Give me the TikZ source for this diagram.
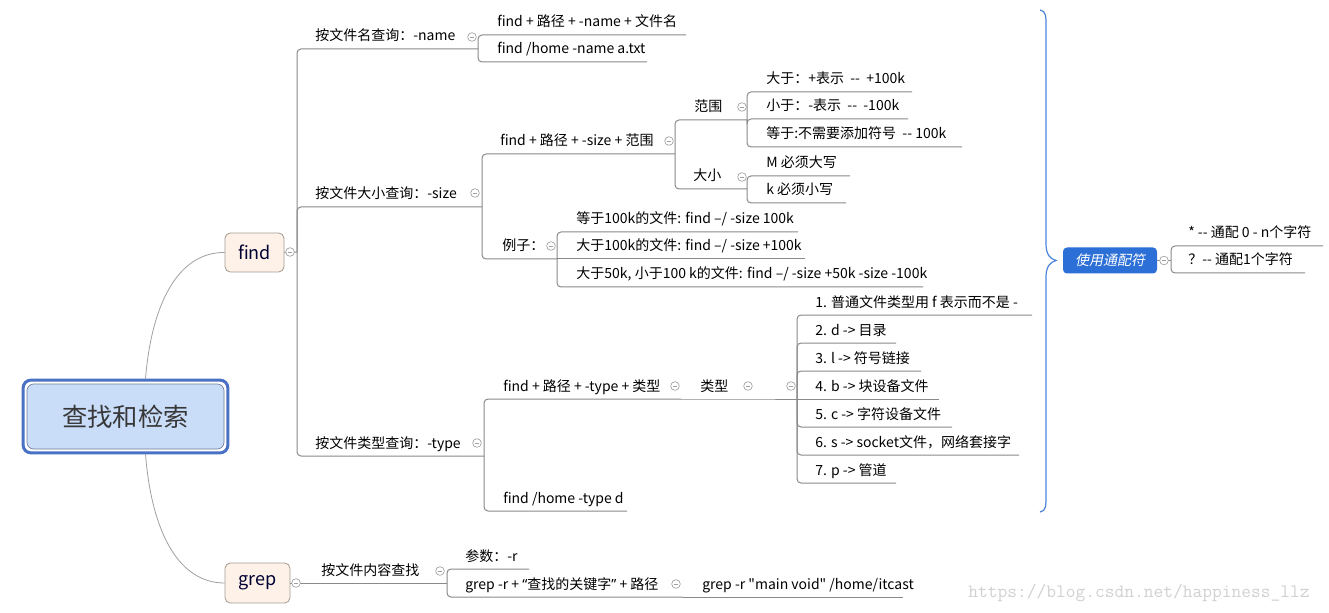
\documentclass[tikz,border=0pt]{standalone}
\usepackage{fontspec}
\newfontfamily\cjk{Noto Sans CJK SC}
\newfontfamily\cjkslant[FakeSlant=0.2]{Noto Sans CJK SC}
\newfontfamily\latinq{Noto Sans}
\usetikzlibrary{positioning,fit}
\definecolor{linegray}{RGB}{138,138,138}
\definecolor{foldgray}{RGB}{160,160,160}
\definecolor{rootfill}{RGB}{201,220,248}
\definecolor{rootblue}{RGB}{74,114,196}
\definecolor{rootedge}{RGB}{110,125,150}
\definecolor{leaffill}{RGB}{254,242,232}
\definecolor{leafedge}{RGB}{165,155,145}
\definecolor{wildblue}{RGB}{44,111,214}
\definecolor{braceblue}{RGB}{76,132,220}
\newcommand{\mmfont}{\cjk\fontsize{10.5}{12}\selectfont}
\tikzset{
  mmtext/.style={anchor=base west, inner sep=0pt, font=\mmfont},
  mmline/.style={draw=linegray, line width=0.75pt},
  mmbranch/.style={mmline, rounded corners=3pt},
  mmcurve/.style={draw=foldgray, line width=0.6pt},
  mmfold/.style={circle, draw=foldgray, fill=white, line width=0.5pt,
                 minimum size=6.5pt, inner sep=0pt,
                 path picture={\draw[foldgray, line width=0.5pt]
                   ([xshift=-1.7pt]path picture bounding box.center) --
                   ([xshift=1.7pt]path picture bounding box.center);}},
  rootbox/.style={draw=rootedge, line width=0.5pt, fill=rootfill, rounded corners=5pt,
                  minimum width=147.75pt, minimum height=48.75pt,
                  font=\cjk\fontsize{19}{22}\selectfont, text=black!78},
  rootring/.style={draw=rootblue, line width=2.25pt, rounded corners=6pt, inner sep=2.7pt},
  leafbox/.style={draw=leafedge, line width=0.6pt, fill=leaffill, rounded corners=4pt,
                  font=\cjk\fontsize{13.5}{15}\selectfont, text=black!80!blue},
  wildbox/.style={fill=wildblue, rounded corners=3pt, minimum width=70.5pt,
                  minimum height=19.5pt, text=white,
                  font=\cjkslant\fontsize{10.5}{12}\selectfont},
  brace/.style={draw=braceblue, line width=0.9pt},
  urlmark/.style={anchor=west, inner sep=0pt, text=black!18,
               font=\ttfamily\fontsize{14.2}{16}\selectfont},
}
\newcommand{\mmtopic}[4]{\node[mmtext] (#1) at (#2,#3) {#4};}
\newcommand{\mmfoldat}[3]{\node[mmfold] (#1) at (#2,#3) {};}

\begin{document}
\begin{tikzpicture}[x=0.75pt, y=-0.75pt]
  \useasboundingbox (0,0) rectangle (1329,613);
  \fill[white] (0,0) rectangle (1329,613);

  % root and first level
  \node[rootbox] (root) at (125.5,416.5) {查找和检索};
  \node[rootring, fit=(root)] (rootR) {};
  \node[leafbox, minimum width=44.25pt, minimum height=29.25pt] (find) at (254.5,252.5) {find};
  \node[leafbox, minimum width=48.75pt, minimum height=30pt] (grep) at (257.5,583) {grep};
  \draw[mmcurve] ([xshift=15pt]rootR.north) .. controls (152,300) and (180,252) .. (find.west);
  \draw[mmcurve] ([xshift=15pt]rootR.south) .. controls (152,535) and (180,583) .. (grep.west);

  % junctions (right ends of the underlines)
  \coordinate (fJ) at (297,252);
  \coordinate (nameEnd) at (478,49);
  \coordinate (sizeEnd) at (482,207);
  \coordinate (typeEnd) at (484,456);
  \coordinate (n1End) at (686,35);
  \coordinate (n2End) at (647,62);
  \coordinate (szqEnd) at (675,154);
  \coordinate (exEnd) at (557,259);
  \coordinate (rangeEnd) at (747,120);
  \coordinate (unitEnd) at (747,189);
  \coordinate (r1End) at (912,92);
  \coordinate (r2End) at (908,119);
  \coordinate (r3End) at (962,147);
  \coordinate (u1End) at (850,176);
  \coordinate (u2End) at (846,203);
  \coordinate (e1End) at (798,232);
  \coordinate (e2End) at (805,259);
  \coordinate (e3End) at (923,287);
  \coordinate (tqEnd) at (681,399);
  \coordinate (thEnd) at (627,511);
  \coordinate (kindEnd) at (754,399);
  \coordinate (blankEnd) at (797,399);
  \foreach \i/\y/\x in {1/315/1032, 2/343/896, 3/371/921, 4/399/939, 5/427/952, 6/455/1019, 7/483/896}
    \coordinate (k\i End) at (\x,\y);
  \coordinate (ctEnd) at (447,583);
  \coordinate (g1End) at (529,569);
  \coordinate (g2End) at (683,597);
  \coordinate (g3End) at (903,597);

  % find branches
  \draw[mmline] (find.east) -- (fJ);
  \foreach \t in {nameEnd,sizeEnd,typeEnd}
    \draw[mmbranch] (fJ) |- (\t);
  \foreach \t in {n1End,n2End}
    \draw[mmbranch] (nameEnd) |- (\t);
  \foreach \t in {szqEnd,exEnd}
    \draw[mmbranch] (sizeEnd) |- (\t);
  \foreach \t in {rangeEnd,unitEnd}
    \draw[mmbranch] (szqEnd) |- (\t);
  \foreach \t in {r1End,r2End,r3End}
    \draw[mmbranch] (rangeEnd) |- (\t);
  \foreach \t in {u1End,u2End}
    \draw[mmbranch] (unitEnd) |- (\t);
  \draw[mmbranch] (exEnd) |- (e1End);
  \draw[mmline] (exEnd) -- (e2End);
  \draw[mmbranch] (exEnd) |- (e3End);
  \foreach \t in {tqEnd,thEnd}
    \draw[mmbranch] (typeEnd) |- (\t);
  \draw[mmline] (tqEnd) -- (kindEnd) -- (blankEnd);
  \foreach \i in {1,2,3,5,6,7}
    \draw[mmbranch] (blankEnd) |- (k\i End);
  \draw[mmline] (blankEnd) -- (k4End);

  % grep branches
  \draw[mmline] (grep.east) -- (ctEnd);
  \foreach \t in {g1End,g2End}
    \draw[mmbranch] (ctEnd) |- (\t);
  \draw[mmline] (g2End) -- (g3End);

  % texts
  \mmtopic{nameT}{315}{41}{按文件名查询：-name}
  \mmtopic{sizeT}{315}{199}{按文件大小查询：-size}
  \mmtopic{typeT}{315}{448}{按文件类型查询：-type}
  \mmtopic{n1T}{497}{27}{find + 路径 + -name + 文件名}
  \mmtopic{n2T}{497}{54}{find /home -name a.txt}
  \mmtopic{szqT}{500}{146}{find + 路径 + -size + 范围}
  \mmtopic{exT}{502}{251}{例子：}
  \mmtopic{rangeT}{694}{112}{范围}
  \mmtopic{unitT}{693}{181}{大小}
  \mmtopic{r1T}{766}{84}{大于：+表示\ \ -{}-\ \ +100k}
  \mmtopic{r2T}{766}{111}{小于：-表示\ \ -{}-\ \ -100k}
  \mmtopic{r3T}{766}{139}{等于:不需要添加符号\ \ -{}- 100k}
  \mmtopic{u1T}{766}{168}{M 必须大写}
  \mmtopic{u2T}{766}{195}{k 必须小写}
  \mmtopic{e1T}{576}{224}{等于100k的文件: find –/ -size 100k}
  \mmtopic{e2T}{576}{251}{大于100k的文件: find –/ -size +100k}
  \mmtopic{e3T}{576}{279}{大于50k, 小于100 k的文件: find –/ -size +50k -size -100k}
  \mmtopic{tqT}{503}{391}{find + 路径 + -type + 类型}
  \mmtopic{thT}{503}{503}{find /home -type d}
  \mmtopic{kindT}{700}{391}{类型}
  \mmtopic{k1T}{815}{307}{1. 普通文件类型用 f 表示而不是 -}
  \mmtopic{k2T}{815}{335}{2. d -> 目录}
  \mmtopic{k3T}{815}{363}{3. l -> 符号链接}
  \mmtopic{k4T}{815}{391}{4. b -> 块设备文件}
  \mmtopic{k5T}{815}{419}{5. c -> 字符设备文件}
  \mmtopic{k6T}{815}{447}{6. s -> socket文件，网络套接字}
  \mmtopic{k7T}{815}{475}{7. p -> 管道}
  \mmtopic{ctT}{321}{575}{按文件内容查找}
  \mmtopic{g1T}{465}{561}{参数：-r}
  \mmtopic{g2T}{465}{589}{grep -r + {\latinq“}查找的关键字{\latinq”} + 路径}
  \mmtopic{g3T}{702}{589}{grep -r "main void" /home/itcast}

  % summary brace and wildcards
  \node[wildbox] (wild) at (1110,260.5) {使用通配符};
  \coordinate (braceTop) at (1040,10);
  \coordinate (braceBot) at (1040,512);
  \coordinate (cusp) at ([xshift=-5pt]wild.west);
  \draw[brace] (braceTop) .. controls (1046,11) and (1046,16) .. (1046,26) -- (1046,244)
    .. controls (1046,254) and (1050,259) .. (cusp)
    .. controls (1050,262) and (1046,267) .. (1046,277) -- (1046,496)
    .. controls (1046,506) and (1046,511) .. (braceBot);
  \coordinate (wJ) at (1171,260.5);
  \coordinate (w1End) at (1323,246);
  \coordinate (w2End) at (1305,273);
  \draw[mmline] (wild.east) -- (wJ);
  \foreach \t in {w1End,w2End}
    \draw[mmbranch] (wJ) |- (\t);
  \mmtopic{w1T}{1188}{238}{* -{}- 通配 0 - n个字符}
  \mmtopic{w2T}{1188}{265}{？-{}- 通配1个字符}

  % collapse marks
  \mmfoldat{findF}{290}{252}
  \mmfoldat{grepF}{296}{583}
  \mmfoldat{wildF}{1164}{260.5}
  \mmfoldat{nameF}{472}{37}
  \mmfoldat{sizeF}{475}{193}
  \mmfoldat{typeF}{477}{443}
  \mmfoldat{szqF}{669}{141}
  \mmfoldat{rangeF}{742}{107}
  \mmfoldat{unitF}{742}{177}
  \mmfoldat{exF}{551}{246}
  \mmfoldat{tqF}{675}{386}
  \mmfoldat{kindF}{748}{386}
  \mmfoldat{blankF}{791}{386}
  \mmfoldat{ctF}{440}{571}
  \mmfoldat{g2F}{676}{584}

  \node[urlmark] (url) at (968,593) {https://blog.csdn.net/happiness\_llz};
\end{tikzpicture}
\end{document}
